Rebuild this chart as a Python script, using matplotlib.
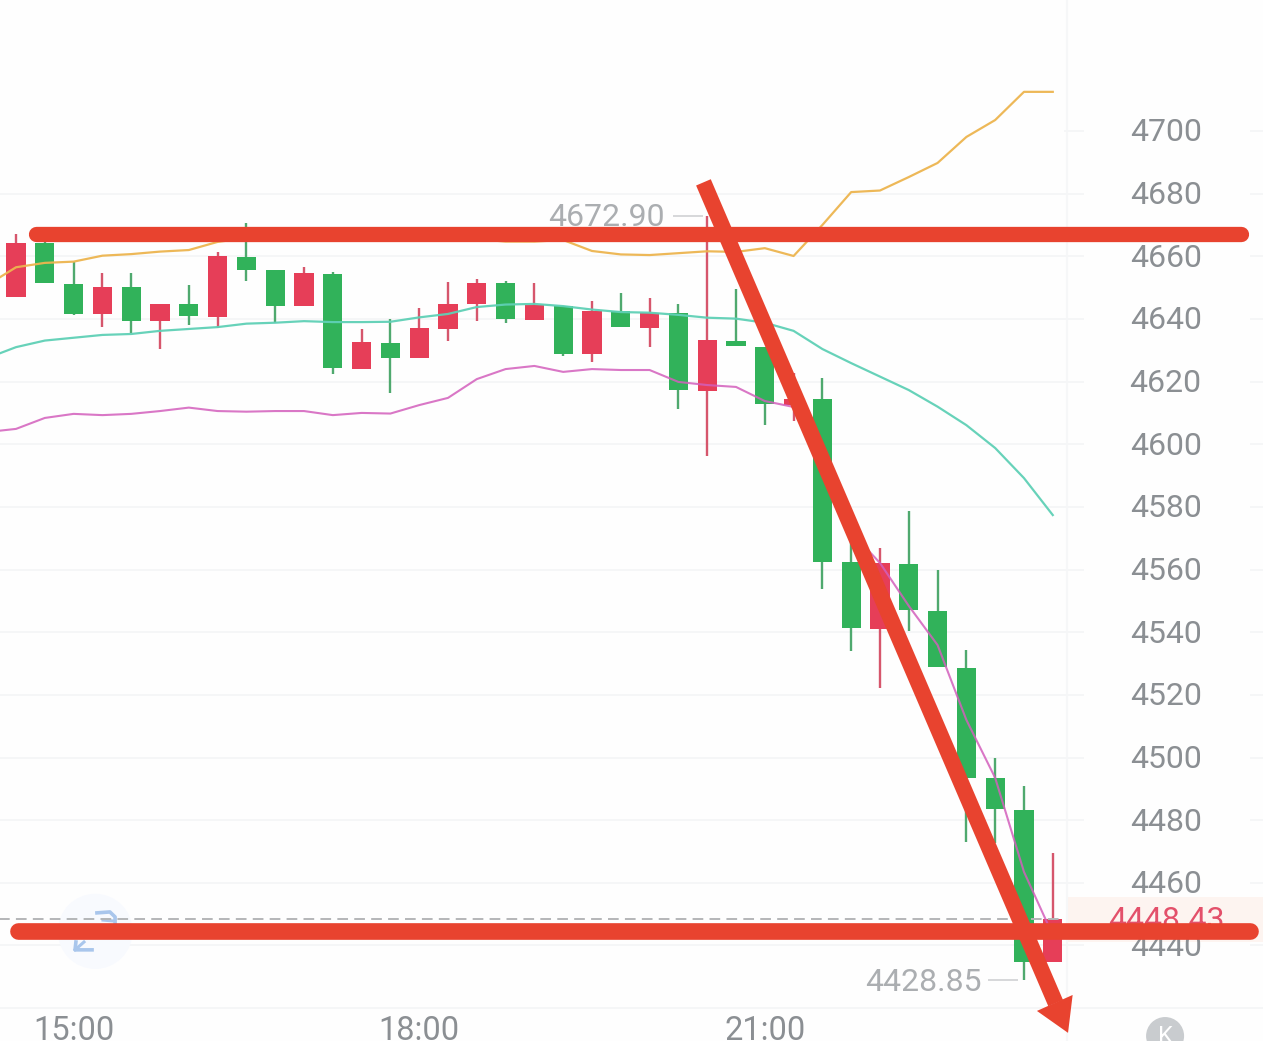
import numpy as np
import matplotlib
matplotlib.use("Agg")
import matplotlib.pyplot as plt
from matplotlib.patches import Polygon, Ellipse, Rectangle

plt.rcParams['font.family'] = ['Roboto', 'DejaVu Sans']

body_top = [4664.3,4664.2,4651.3,4650.3,4650.1,4644.9,4644.7,4660.1,4659.9,4655.5,4654.6,4654.3,4632.7,4632.4,4637.0,4644.9,4651.6,4651.5,4644.5,4644.2,4642.5,4642.6,4641.9,4641.9,4633.4,4633.0,4631.1,4614.5,4614.5,4562.3,4562.0,4561.8,4546.7,4528.7,4493.4,4483.2,4448.43]
body_bottom = [4647.0,4651.5,4641.7,4641.6,4639.4,4639.2,4640.8,4640.6,4655.7,4644.2,4644.1,4624.3,4624.1,4627.6,4627.4,4636.8,4644.7,4640.0,4639.8,4628.9,4628.8,4637.3,4637.1,4617.2,4616.9,4631.4,4612.8,4612.6,4562.5,4541.2,4541.1,4547.2,4529.0,4493.6,4483.5,4434.8,4434.6]
highs = [4667.1,4667.8,4658.3,4654.8,4654.8,4644.9,4650.7,4661.5,4670.5,4655.5,4656.5,4654.9,4636.9,4639.9,4643.4,4651.7,4652.7,4652.2,4651.4,4644.2,4645.8,4648.4,4646.8,4644.8,4672.90,4649.5,4631.1,4622.7,4621.1,4569.1,4566.8,4578.7,4559.9,4534.3,4499.9,4491.0,4469.6]
lows = [4647.0,4651.5,4641.3,4637.4,4635.5,4630.4,4638.0,4637.1,4652.2,4638.8,4644.1,4622.5,4624.1,4616.5,4627.4,4633.0,4639.3,4638.8,4639.8,4628.2,4626.4,4637.3,4631.1,4611.3,4596.2,4631.4,4606.1,4607.4,4553.8,4534.1,4522.3,4540.4,4529.0,4473.1,4472.7,4428.85,4434.6]
rising = "RGGRGRGRGGRGRGRRRGRGRGRGRGGRGGRGGGGGR"

ma_orange = [4650.8,4656.5,4657.9,4658.3,4660.2,4660.7,4661.5,4662.0,4664.6,4665.8,4665.8,4665.8,4665.8,4665.8,4665.8,4665.8,4665.8,4665.5,4664.7,4664.7,4665.2,4661.7,4660.6,4660.4,4661.0,4661.6,4661.4,4662.6,4660.1,4670.0,4680.5,4681.0,4685.3,4689.8,4698.1,4703.5,4712.5,4712.5]
ma_teal = [4627.5,4631.0,4633.1,4634.0,4634.9,4635.2,4636.2,4636.8,4637.4,4638.5,4638.8,4639.3,4639.0,4639.0,4639.1,4640.5,4641.6,4643.8,4644.6,4644.8,4644.1,4643.0,4642.2,4642.0,4641.3,4640.4,4640.1,4638.8,4636.2,4630.4,4625.9,4621.6,4617.3,4612.0,4606.1,4598.8,4589.2,4577.4]
ma_magenta = [4603.9,4604.9,4608.4,4609.7,4609.3,4609.7,4610.6,4611.7,4610.6,4610.4,4610.6,4610.6,4609.3,4610.0,4609.8,4612.5,4614.8,4620.8,4624.0,4625.0,4623.1,4624.0,4623.7,4623.7,4619.9,4618.9,4618.3,4613.8,4611.9,4595.6,4572.0,4562.1,4548.4,4535.9,4512.0,4493.5,4463.5,4443.3]

y_ticks = [4700,4680,4660,4640,4620,4600,4580,4560,4540,4520,4500,4480,4460,4440,4420]
y_labels = ["4700","4680","4660","4640","4620","4600","4580","4560","4540","4520","4500","4480","4460","4440"]
x_ticks = [2, 14, 26]
x_labels = ["15:00","18:00","21:00"]
high_label, low_label, last_price = "4672.90", "4428.85", "4448.43"

GREEN, RED = "#31B25A", "#E63E58"
GREY, LIGHT = "#8B8F93", "#ABAEB1"
PEN = "#E8432F"
GRID = "#F5F6F7"
ICON = "#A9C6EC"

fig = plt.figure(figsize=(12.63, 10.41), dpi=100, facecolor="#FEFEFE")
ax = fig.add_axes([0, 0, 1, 1])
ax.set_xlim(-0.556, 43.3)
ax.set_ylim(4409.5, 4741.82)
ax.axis("off")

idx = np.arange(len(body_top))
line_x = np.arange(-1, len(body_top))
col_l, col_r, lab_x, tick_end, tick_start = 36.5, 43.3, 39.95, 37.1, 42.85
text_dy = -0.6

# background furniture
ax.add_patch(Rectangle((col_l, 4441.0), col_r - col_l, 14.5, fc="#FDF4F0", ec="none", zorder=0))
ax.axvline(col_l, color="#F6F7F8", lw=1.5, zorder=0.5)
for t in y_ticks:
    ax.hlines(t, -1 if t != 4700 else col_l - 0.1, tick_end, color=GRID, lw=1.4, zorder=0.5)
    ax.hlines(t, tick_start, col_r, color=GRID, lw=1.4, zorder=0.5)
ax.hlines(4420, tick_end, col_r, color=GRID, lw=1.4, zorder=0.5)

# swap icon
ax.add_patch(Ellipse((2.75, 4444.5), 2.6, 24, fc="#F8FAFE", ec="none", zorder=0.6))
ax.plot([2.81, 3.26, 3.44, 3.44], [4450.4, 4450.7, 4449.1, 4447.2], color=ICON, lw=2.6, zorder=0.7)
ax.plot([3.02, 3.4], [4448.1, 4447.8], color=ICON, lw=2.2, zorder=0.7)
ax.plot([2.08, 2.05, 2.64], [4441.1, 4438.6, 4438.6], color=ICON, lw=2.6, zorder=0.7)
ax.plot([2.05, 2.36], [4438.6, 4441.1], color=ICON, lw=2.2, zorder=0.7)

# candles
body_col = [GREEN if r == "G" else RED for r in rising]
wick_col = ["#4FA96E" if r == "G" else "#D6566C" for r in rising]
ax.vlines(idx, lows, highs, colors=wick_col, lw=1.7, zorder=2)
ax.bar(idx, np.array(body_top) - np.array(body_bottom), bottom=body_bottom, width=0.67,
       color=body_col, ec="none", zorder=3)

# moving averages
ax.plot(line_x, ma_orange, color="#EDB54F", lw=1.6, zorder=4, alpha=0.95)
ax.plot(line_x, ma_teal, color="#5FD0B6", lw=1.6, zorder=4, alpha=0.95)
ax.plot(line_x, ma_magenta, color="#D35FBC", lw=1.5, zorder=4, alpha=0.85)

# last price line
price = float(last_price)
ax.hlines(price, -1, 36.4, color="#B4B6B8", lw=1.4, linestyles=(0, (5.5, 3.2)), zorder=4)

# scale labels
fs = 23
for t, s in zip(y_ticks, y_labels):
    ax.text(lab_x - 0.03, t + text_dy, s, color=GREY, fontsize=fs, ha="center", va="center", zorder=5)
ax.text(lab_x, price + text_dy, last_price, color="#E3506A", fontsize=fs, ha="center", va="center", zorder=5)
for t, s in zip(x_ticks, x_labels):
    ax.text(t + 0.0, 4409.9, s, color=GREY, fontsize=23.5, ha="center", va="baseline", zorder=5)

# extreme labels
ax.text(22.53, highs[24] + text_dy, high_label, color=LIGHT, fontsize=fs, ha="right", va="center", zorder=5)
ax.hlines(highs[24], 22.8, 23.85, color="#D6D7D9", lw=1.4, zorder=5)
ax.text(33.52, lows[35] + text_dy, low_label, color=LIGHT, fontsize=fs, ha="right", va="center", zorder=5)
ax.hlines(lows[35], 33.75, 34.8, color="#D6D7D9", lw=1.4, zorder=5)

# K badge
ax.add_patch(Ellipse((39.9, 4411.1), 1.32, 12.1, fc="#C9CCCF", ec="none", zorder=5))
ax.text(39.9, 4408.9, "K", color="white", fontsize=17, ha="center", va="baseline", zorder=6)

# hand-drawn pen marks
ax.plot([0.68, 42.52], [4667.1, 4667.1], color=PEN, lw=11, solid_capstyle="round", zorder=8)
ax.plot([0.07, 42.85], [4444.6, 4444.6], color=PEN, lw=12, solid_capstyle="round", zorder=8)
ax.plot([23.87, 36.1], [4683.6, 4421.6], color=PEN, lw=11.5, solid_capstyle="butt", zorder=8)
ax.add_patch(Polygon([(36.69, 4424.2), (35.45, 4419.1), (36.53, 4412.1)], closed=True,
                     fc=PEN, ec="none", zorder=8))

fig.savefig("out.png", dpi=100, facecolor=fig.get_facecolor())
